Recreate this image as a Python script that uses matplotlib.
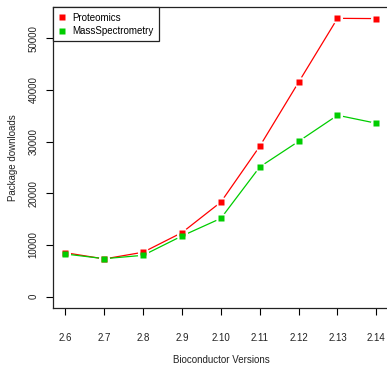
import matplotlib
matplotlib.use("Agg")
import matplotlib.pyplot as plt

plt.rcParams['font.family'] = ['Liberation Sans', 'DejaVu Sans']

versions = ['2.6', '2.7', '2.8', '2.9', '2.10', '2.11', '2.12', '2.13', '2.14']
proteomics = [8500, 7300, 8600, 12400, 18300, 29100, 41500, 53850, 53800]
massspec = [8250, 7350, 8000, 11750, 15150, 25100, 30050, 35100, 33550]
yticks = [0, 10000, 20000, 30000, 40000, 50000]

red = '#ff0000'
green = '#00cd00'
fs = 7

x = list(range(len(versions)))

fig = plt.figure(figsize=(3.87, 3.65), dpi=100)
ax = fig.add_axes([53 / 387, 1 - 307.8 / 365, 335.8 / 387, 300.6 / 365])

# lines first, then white gaps around points (R type="b"), then the points
ax.plot(x, proteomics, color=red, lw=0.9, zorder=2)
ax.plot(x, massspec, color=green, lw=0.9, zorder=2)
for ys in (proteomics, massspec):
    ax.plot(x, ys, ls='none', marker='o', ms=8, mfc='white', mec='none', zorder=3)
p1, = ax.plot(x, proteomics, ls='none', marker='s', ms=4.3, color=red, mec='none',
              zorder=4, label='Proteomics')
p2, = ax.plot(x, massspec, ls='none', marker='s', ms=4.3, color=green, mec='none',
              zorder=4, label='MassSpectrometry')

ymax = max(proteomics + massspec)
ax.set_ylim(-0.04 * ymax, 1.04 * ymax)
ax.set_xlim(-0.32, len(versions) - 1 + 0.32)

ax.set_xticks(x)
ax.set_xticklabels(versions, fontsize=fs, color='#222222')
ax.set_yticks(yticks)
ax.set_yticklabels([str(v) for v in yticks], fontsize=fs, color='#222222',
                   rotation=90, va='center')
ax.tick_params(axis='x', length=4.7, width=0.8, pad=13.3)
ax.tick_params(axis='y', length=4.7, width=0.8, pad=5.6)

for s in ax.spines.values():
    s.set_linewidth(0.9)
    s.set_color('#222222')

ax.set_xlabel('Bioconductor Versions', fontsize=fs, color='#222222')
ax.set_ylabel('Package downloads', fontsize=fs, color='#222222')
ax.xaxis.label.set_va('center')
ax.yaxis.label.set_va('center')
ax.xaxis.set_label_coords(0.5, -(360 - 307.8) / 300.6)
ax.yaxis.set_label_coords((13 - 53) / 335.8, 0.5)

leg = ax.legend(handles=[p1, p2], loc='upper left', bbox_to_anchor=(0, 1),
                borderaxespad=0, fontsize=fs, fancybox=False, framealpha=1,
                edgecolor='#222222', borderpad=0.55, labelspacing=0.35,
                handlelength=0.8, handletextpad=0.6, markerscale=1)
leg.get_frame().set_linewidth(0.9)
leg.set_zorder(5)

fig.savefig('out.png', dpi=100)
